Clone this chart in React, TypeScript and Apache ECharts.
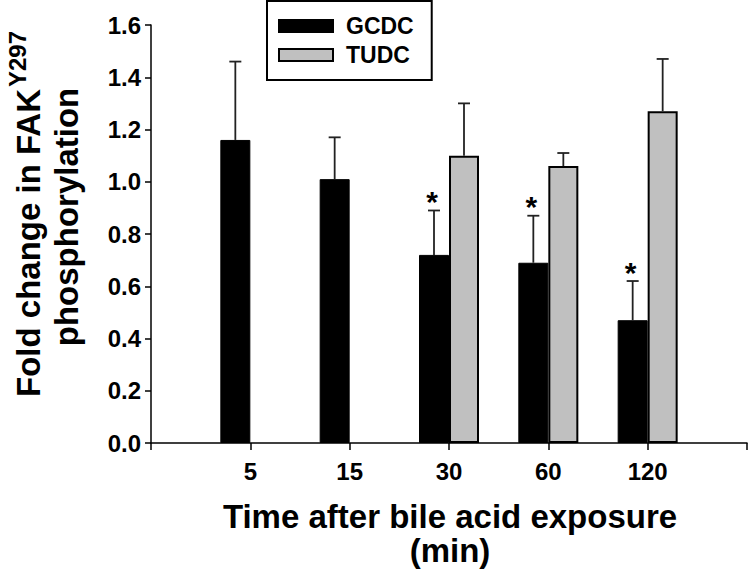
import React, { useEffect, useRef } from "react";
import * as echarts from "echarts";

// ---- data ----
const timePoints = ["5", "15", "30", "60", "120"];
const gcdcMean = [1.16, 1.01, 0.72, 0.69, 0.47];
const gcdcErr = [0.30, 0.16, 0.17, 0.18, 0.15];
const tudcMean: (number | null)[] = [null, null, 1.10, 1.06, 1.27];
const tudcErr: (number | null)[] = [null, null, 0.20, 0.05, 0.20];
const gcdcSignificant = [false, false, true, true, true];
const yTicks = [0, 0.2, 0.4, 0.6, 0.8, 1.0, 1.2, 1.4, 1.6];

const FONT = "'Liberation Sans', Arial, Helvetica, sans-serif";

export default function App() {
  const ref = useRef<HTMLDivElement>(null);

  useEffect(() => {
    if (!ref.current) return;
    const chart = echarts.init(ref.current, undefined, { renderer: "svg" });

    // padded category axis: empty slot at each end
    const axisCats = ["", ...timePoints, ""];
    const pad = (arr: (number | null)[]) => [null, ...arr, null];

    const errData: any[] = [];
    timePoints.forEach((_, i) => {
      errData.push([i + 1, gcdcMean[i], gcdcMean[i] + gcdcErr[i], -1, gcdcSignificant[i] ? 1 : 0]);
      const m = tudcMean[i];
      const e = tudcErr[i];
      if (m != null && e != null) errData.push([i + 1, m, m + e, 1, 0]);
    });

    const halfBar = 15;

    chart.setOption({
      animation: false,
      textStyle: { fontFamily: FONT },
      grid: { left: 151, right: 2, top: 25, bottom: 130, containLabel: false },
      legend: {
        data: ["GCDC", "TUDC"],
        orient: "vertical",
        left: 267,
        top: 1,
        icon: "rect",
        itemWidth: 54,
        itemHeight: 12,
        itemGap: 5,
        padding: [13, 18, 13, 11],
        borderColor: "#000",
        borderWidth: 2,
        borderRadius: 0,
        textStyle: {
          fontSize: 23,
          fontWeight: "bold",
          color: "#000",
          fontFamily: FONT,
          lineHeight: 24,
          padding: [0, 0, 0, 8],
        },
      },
      xAxis: {
        type: "category",
        data: axisCats,
        boundaryGap: false,
        axisLine: { lineStyle: { color: "#000", width: 1.5 } },
        axisTick: { show: true, interval: 0, length: 7, inside: false, lineStyle: { color: "#000", width: 1.5 } },
        axisLabel: {
          interval: 0,
          margin: 16,
          fontSize: 24,
          fontWeight: "bold",
          color: "#000",
          fontFamily: FONT,
        },
        splitLine: { show: false },
      },
      yAxis: {
        type: "value",
        min: yTicks[0],
        max: yTicks[yTicks.length - 1],
        interval: 0.2,
        axisLine: { show: true, lineStyle: { color: "#000", width: 1.5 } },
        axisTick: { show: true, length: 6, inside: false, lineStyle: { color: "#000", width: 1.5 } },
        axisLabel: {
          margin: 10,
          fontSize: 24,
          fontWeight: "bold",
          color: "#000",
          fontFamily: FONT,
          formatter: (v: number) => v.toFixed(1),
        },
        splitLine: { show: false },
      },
      series: [
        {
          name: "GCDC",
          type: "bar",
          data: pad(gcdcMean),
          barWidth: 30,
          barGap: "0%",
          itemStyle: { color: "#000", borderColor: "#000", borderWidth: 1 },
        },
        {
          name: "TUDC",
          type: "bar",
          data: pad(tudcMean),
          barWidth: 30,
          barGap: "0%",
          itemStyle: { color: "#c0c0c0", borderColor: "#000", borderWidth: 2 },
        },
        {
          name: "error",
          type: "custom",
          data: errData,
          encode: { x: 0, y: [1, 2] },
          z: 5,
          renderItem: (params: any, api: any) => {
            const xi = api.value(0);
            const mean = api.value(1);
            const hi = api.value(2);
            const side = api.value(3);
            const sig = api.value(4);
            const p0 = api.coord([xi, mean]);
            const p1 = api.coord([xi, hi]);
            const cx = p0[0] + side * halfBar;
            const children: any[] = [
              {
                type: "line",
                shape: { x1: cx, y1: p0[1], x2: cx, y2: p1[1] },
                style: { stroke: "#222", lineWidth: 1.8 },
              },
              {
                type: "line",
                shape: { x1: cx - 6, y1: p1[1], x2: cx + 6, y2: p1[1] },
                style: { stroke: "#222", lineWidth: 1.8 },
              },
            ];
            if (sig) {
              children.push({
                type: "text",
                style: {
                  text: "*",
                  x: cx - 2,
                  y: p1[1] + 6,
                  align: "center",
                  verticalAlign: "bottom",
                  fontSize: 30,
                  fontWeight: "bold",
                  fontFamily: FONT,
                  fill: "#000",
                },
              });
            }
            return { type: "group", children };
          },
        },
      ],
      graphic: [
        {
          type: "text",
          x: 28,
          y: 397,
          rotation: Math.PI / 2,
          style: {
            text: "Fold change in FAK",
            align: "left",
            verticalAlign: "middle",
            fontSize: 33,
            fontWeight: "bold",
            fontFamily: FONT,
            fill: "#000",
          },
        },
        {
          type: "text",
          x: 17,
          y: 87,
          rotation: Math.PI / 2,
          style: {
            text: "Y297",
            align: "left",
            verticalAlign: "middle",
            fontSize: 24,
            fontWeight: "bold",
            fontFamily: FONT,
            fill: "#000",
          },
        },
        {
          type: "text",
          x: 66,
          y: 217,
          rotation: Math.PI / 2,
          style: {
            text: "phosphorylation",
            align: "center",
            verticalAlign: "middle",
            fontSize: 33,
            fontWeight: "bold",
            fontFamily: FONT,
            fill: "#000",
          },
        },
        {
          type: "text",
          x: 450,
          y: 499,
          style: {
            text: "Time after bile acid exposure\n(min)",
            align: "center",
            verticalAlign: "top",
            lineHeight: 34,
            fontSize: 33,
            fontWeight: "bold",
            fontFamily: FONT,
            fill: "#000",
          },
        },
      ],
    });

    return () => chart.dispose();
  }, []);

  return (
    <div
      ref={ref}
      style={{ position: "fixed", left: 0, top: 0, width: 750, height: 573, background: "#fff" }}
    />
  );
}
